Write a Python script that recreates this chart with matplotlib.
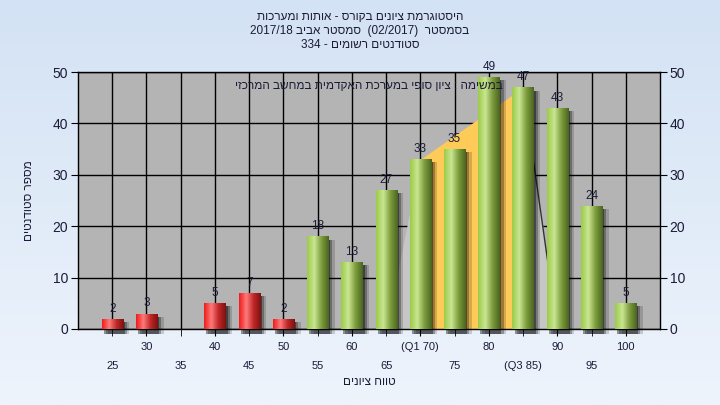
import numpy as np
import matplotlib
matplotlib.use('Agg')
import matplotlib.pyplot as plt
from matplotlib.colors import LinearSegmentedColormap

plt.rcParams['font.family'] = ['Liberation Sans Narrow', 'Liberation Sans', 'DejaVu Sans']

# data
grades = [25, 30, 35, 40, 45, 50, 55, 60, 65, 70, 75, 80, 85, 90, 95, 100]
counts = [2, 3, 0, 5, 7, 2, 18, 13, 27, 33, 35, 49, 47, 43, 24, 5]
q1_grade = 70
q3_grade = 85
pass_grade = 55

title_lines = ['היסטוגרמת ציונים בקורס - אותות ומערכות',
               'בסמסטר  (02/2017)  סמסטר אביב 2017/18',
               'סטודנטים רשומים - 334']
note = 'במשימה : ציון סופי במערכת האקדמית במחשב המרכזי'
xlabel = 'טווח ציונים'
ylabel = 'מספר סטודנטים'


def rtl(text):
    # matplotlib has no bidi, so put hebrew words in visual order by hand
    words = text.split(' ')
    out = []
    for w in reversed(words):
        if any('\u0590' <= c <= '\u05ff' for c in w):
            w = w[::-1]
        out.append(w)
    return ' '.join(out)


tick_labels = []
for g in grades:
    if g == q1_grade:
        tick_labels.append('(Q1 %d)' % g)
    elif g == q3_grade:
        tick_labels.append('(Q3 %d)' % g)
    else:
        tick_labels.append(str(g))

x = np.arange(len(grades))
w = 0.62

fig = plt.figure(figsize=(7.2, 4.05), dpi=100)

# light blue gradient background
bg = fig.add_axes([0, 0, 1, 1], zorder=0)
bg_cmap = LinearSegmentedColormap.from_list('bg', ['#d3e2f4', '#eef4fc'])
bg.imshow(np.linspace(0, 1, 256).reshape(-1, 1), cmap=bg_cmap, aspect='auto', extent=[0, 1, 0, 1])
bg.set_axis_off()

ax = fig.add_axes([78 / 720, 76 / 405, 582 / 720, 257 / 405], zorder=1)
ax.set_facecolor('#b4b4b4')
ax.set_xlim(-1, len(grades))
ax.set_ylim(0, 50)

# quartile area behind the bars
i1 = grades.index(q1_grade)
i3 = grades.index(q3_grade)
ax.fill_between([i1 - 1, i1], [0, 0], [0, counts[i1]], color='#c6c6c6', lw=0, zorder=1.5)
ax.fill_between([i3, i3 + 1], [0, 0], [counts[i3], 0], color='#c6c6c6', lw=0, zorder=1.5)
ax.fill_between([i1, i3], [0, 0], [counts[i1], counts[i3]], color='#ffcb58', lw=0, zorder=1.6)
ax.plot([i3, i3 + 1], [counts[i3], 0], color='#333333', lw=1, zorder=1.7)

green = LinearSegmentedColormap.from_list('g', ['#9ccb48', '#c9e692', '#7d9c3c', '#4a6520'])
red = LinearSegmentedColormap.from_list('r', ['#ee1c1c', '#ff7a7a', '#c02828', '#801010'])
grad = np.linspace(0, 1, 64).reshape(1, -1)

for xi, g, c in zip(x, grades, counts):
    if c == 0:
        continue
    # soft shadow right of the bar
    for dx, a in [(0.06, 0.4), (0.12, 0.28), (0.19, 0.16)]:
        ax.bar(xi + dx, c - 0.6 + 1.0, bottom=-1.0, width=w, color='black', alpha=a, lw=0,
               zorder=2, clip_on=False)
    bar = ax.bar(xi, c, width=w, color='none', lw=0, zorder=3)[0]
    cm = green if g >= pass_grade else red
    im = ax.imshow(grad, cmap=cm, aspect='auto', zorder=3,
                   extent=[xi - w / 2, xi + w / 2, 0, c])
    im.set_clip_path(bar)
    ax.text(xi, c + 0.8, str(c), ha='center', va='bottom', fontsize=8.5,
            color='#1c1c38', zorder=5)

ax.set_xlim(-1, len(grades))
ax.set_ylim(0, 50)

ax.text(7.5, 47.3, rtl(note), ha='center', va='center', fontsize=8.5, color='#1c1c38', zorder=4)

# two rows of x labels
ax.set_xticks(x[1::2])
ax.set_xticklabels(tick_labels[1::2])
ax.set_xticks(x[0::2], minor=True)
ax.set_xticklabels(tick_labels[0::2], minor=True)
ax.tick_params(axis='x', which='major', length=5, pad=4, labelsize=8, colors='black',
               labelcolor='#1c1c38')
ax.tick_params(axis='x', which='minor', length=5, pad=18, labelsize=8, colors='black',
               labelcolor='#1c1c38')

ax.set_yticks(range(0, 51, 10))
ax.tick_params(axis='y', length=5, pad=2, labelsize=10, right=True, labelright=True,
               labelcolor='#1c1c38')

ax.set_axisbelow(True)
ax.grid(True, which='both', axis='x', color='black', lw=1)
ax.grid(True, which='major', axis='y', color='black', lw=1)
for s in ax.spines.values():
    s.set_color('black')
    s.set_linewidth(1)

ax.set_ylabel(rtl(ylabel), fontsize=8.5, color='#1c1c38')
ax.yaxis.set_label_coords(-0.074, 0.5)
ax.set_xlabel(rtl(xlabel), fontsize=8.5, color='#1c1c38', va='center')
ax.xaxis.set_label_coords(0.5, -0.206)

for k, line in enumerate(title_lines):
    fig.text(0.5, 1 - (17 + 14 * k) / 405, rtl(line), ha='center', va='center',
             fontsize=8.5, color='#1c1c38')

fig.savefig('out.png', dpi=100)
